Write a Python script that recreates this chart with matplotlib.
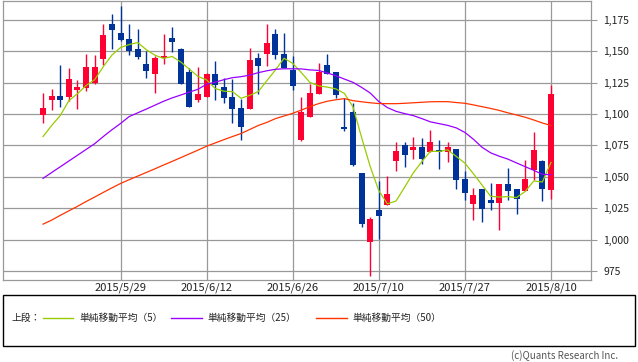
import matplotlib
matplotlib.use("Agg")
import matplotlib.pyplot as plt
from matplotlib.patches import Rectangle
from matplotlib.lines import Line2D
from matplotlib.ticker import FuncFormatter

plt.rcParams['font.family'] = ['Noto Sans CJK JP', 'DejaVu Sans']

# daily candles, 2015/5/18 .. 2015/8/10 (trading days)
opens = [1099.6, 1111.5, 1114.7, 1113.9, 1119.4, 1121.0, 1125.0, 1144.0, 1171.8, 1164.7,
         1159.9, 1152.0, 1140.1, 1132.1, 1144.8, 1160.7, 1152.0, 1133.7, 1111.5, 1113.9,
         1132.1, 1121.8, 1113.9, 1105.2, 1104.4, 1144.8, 1148.0, 1163.9, 1148.0, 1135.3,
         1079.0, 1098.0, 1116.3, 1139.3, 1133.7, 1090.1, 1102.0, 1052.8, 998.0, 1023.4,
         1027.4, 1062.3, 1075.0, 1071.0, 1073.4, 1069.4, 1071.0, 1069.4, 1071.8, 1048.0,
         1028.2, 1040.1, 1031.3, 1028.9, 1044.0, 1040.1, 1038.5, 1055.2, 1062.3, 1039.3]
highs = [1117.1, 1120.2, 1139.3, 1136.9, 1127.4, 1148.0, 1147.2, 1171.8, 1179.8, 1186.1,
         1171.8, 1167.9, 1150.4, 1146.4, 1163.9, 1169.4, 1152.8, 1136.9, 1137.7, 1132.9,
         1142.5, 1129.0, 1128.2, 1112.3, 1152.8, 1148.8, 1171.8, 1167.9, 1164.7, 1146.4,
         1113.9, 1124.2, 1140.9, 1148.0, 1133.7, 1113.1, 1109.1, 1052.8, 1017.8, 1046.4,
         1050.4, 1077.4, 1077.4, 1082.1, 1081.3, 1087.7, 1079.0, 1077.4, 1071.8, 1054.4,
         1040.9, 1040.1, 1044.8, 1044.0, 1056.7, 1040.1, 1063.1, 1086.1, 1063.1, 1123.4]
lows = [1093.2, 1103.6, 1106.0, 1110.7, 1104.4, 1118.6, 1124.2, 1139.3, 1152.0, 1158.3,
        1147.2, 1144.0, 1129.0, 1117.1, 1140.1, 1149.6, 1124.2, 1106.0, 1109.9, 1113.9,
        1111.5, 1109.1, 1092.5, 1079.0, 1104.4, 1116.3, 1138.5, 1144.0, 1136.9, 1119.4,
        1078.2, 1098.0, 1116.3, 1132.1, 1113.1, 1086.9, 1058.3, 1009.9, 971.0, 1000.4,
        1027.4, 1054.4, 1057.5, 1063.9, 1059.9, 1069.4, 1055.9, 1061.5, 1040.1, 1031.3,
        1015.5, 1013.9, 1023.4, 1007.5, 1031.3, 1020.2, 1038.5, 1047.2, 1030.5, 1032.1]
closes = [1105.2, 1114.7, 1111.5, 1128.2, 1121.8, 1137.7, 1137.7, 1163.1, 1167.1, 1159.1,
          1150.4, 1145.6, 1134.5, 1144.8, 1146.4, 1157.5, 1124.2, 1106.0, 1116.3, 1132.1,
          1123.4, 1113.1, 1104.4, 1090.1, 1143.3, 1138.5, 1156.7, 1147.2, 1136.9, 1122.6,
          1102.0, 1117.1, 1133.7, 1132.1, 1115.5, 1088.5, 1059.1, 1012.3, 1016.3, 1018.6,
          1036.1, 1070.2, 1067.1, 1073.4, 1063.9, 1077.4, 1069.4, 1073.4, 1047.2, 1036.9,
          1035.3, 1024.2, 1028.9, 1044.0, 1038.5, 1032.1, 1048.0, 1071.0, 1040.1, 1116.3]

ma5 = [1082.1, 1090.9, 1098.8, 1110.7, 1116.2, 1122.8, 1127.4, 1137.8, 1147.0, 1153.0,
       1155.4, 1157.0, 1151.3, 1146.9, 1144.4, 1145.9, 1141.5, 1135.8, 1130.0, 1127.2,
       1120.4, 1118.2, 1117.9, 1112.6, 1114.9, 1117.9, 1126.6, 1135.2, 1144.5, 1140.4,
       1133.1, 1125.2, 1122.5, 1121.5, 1120.1, 1116.5, 1105.8, 1081.5, 1058.3, 1039.0,
       1028.5, 1030.7, 1041.7, 1053.1, 1062.1, 1070.4, 1070.2, 1071.5, 1066.3, 1060.9,
       1052.4, 1043.4, 1034.5, 1033.9, 1034.2, 1033.5, 1038.3, 1046.7, 1045.9, 1061.5]
ma25 = [1048.8, 1053.4, 1058.0, 1062.6, 1067.2, 1071.8, 1076.4, 1082.1, 1087.5, 1092.5,
        1098.0, 1101.0, 1104.0, 1107.1, 1110.2, 1112.9, 1115.2, 1117.5, 1119.8, 1123.8,
        1125.4, 1127.4, 1129.0, 1129.8, 1131.0, 1133.0, 1134.5, 1135.7, 1136.1, 1136.1,
        1136.0, 1135.2, 1134.8, 1132.8, 1130.6, 1127.9, 1125.3, 1121.3, 1116.8, 1110.0,
        1105.2, 1102.2, 1100.4, 1098.8, 1096.4, 1093.8, 1092.4, 1091.0, 1089.0, 1085.4,
        1079.9, 1073.5, 1069.1, 1066.4, 1064.1, 1061.1, 1058.1, 1055.2, 1052.0, 1051.7]
ma50 = [1012.3, 1015.5, 1019.3, 1022.9, 1026.5, 1030.3, 1033.9, 1037.6, 1041.2, 1044.7,
        1047.7, 1050.6, 1053.5, 1056.4, 1059.4, 1062.3, 1065.3, 1068.3, 1071.3, 1074.4,
        1077.0, 1079.6, 1082.1, 1084.5, 1087.7, 1090.9, 1093.4, 1096.4, 1098.5, 1100.6,
        1103.2, 1105.9, 1108.3, 1110.2, 1111.4, 1112.3, 1110.7, 1109.8, 1109.0, 1108.4,
        1108.3, 1108.3, 1108.6, 1109.0, 1109.4, 1109.8, 1109.9, 1109.9, 1109.2, 1108.6,
        1107.3, 1105.9, 1104.5, 1102.9, 1101.0, 1099.3, 1097.5, 1095.3, 1092.9, 1090.9]

tick_pos = [9, 19, 29, 39, 49, 59]
tick_labels = ["2015/5/29", "2015/6/12", "2015/6/26", "2015/7/10", "2015/7/27", "2015/8/10"]
y_ticks = [975, 1000, 1025, 1050, 1075, 1100, 1125, 1150, 1175]

up_col = "#ff0033"
down_col = "#003399"
grid_col = "#999999"

fig = plt.figure(figsize=(6.38, 3.62), dpi=100)
ax = fig.add_axes([3 / 638, 1 - 280 / 362, 588 / 638, 279 / 362])

# grid
for y in y_ticks:
    ax.axhline(y, color=grid_col, lw=0.9, zorder=0)
for x in tick_pos:
    ax.axvline(x, color=grid_col, lw=0.9, zorder=0)

# candles
w = 0.7
for i in range(len(opens)):
    o, h, l, c = opens[i], highs[i], lows[i], closes[i]
    col = up_col if c >= o else down_col
    ax.vlines(i, l, h, color=col, lw=1.0, zorder=2)
    bottom = min(o, c)
    height = max(abs(c - o), 0.8)
    ax.add_patch(Rectangle((i - w / 2, bottom), w, height, facecolor=col,
                           edgecolor=col, lw=0, zorder=3))

idx = list(range(len(closes)))
ax.plot(idx, ma5, color="#99cc00", lw=0.9, zorder=4)
ax.plot(idx, ma25, color="#9900ff", lw=0.9, zorder=4)
ax.plot(idx, ma50, color="#ff3300", lw=0.9, zorder=4)

ax.set_xlim(-4.65, 63.65)
ax.set_ylim(967.8, 1190.1)

ax.set_xticks(tick_pos)
ax.set_xticklabels(tick_labels)
ax.set_yticks(y_ticks)
ax.yaxis.set_major_formatter(FuncFormatter(lambda v, p: f"{int(v):,}"))
ax.yaxis.tick_right()
ax.tick_params(axis="x", length=0, pad=2, labelsize=8, colors="#222222")
ax.tick_params(axis="y", length=4, width=0.8, color=grid_col, pad=5,
               labelsize=7.5, labelcolor="#222222")
for s in ax.spines.values():
    s.set_color(grid_col)
    s.set_linewidth(0.9)

# legend box
fig.patches.append(Rectangle((3 / 638, 1 - 346 / 362), 632 / 638, 51 / 362,
                             transform=fig.transFigure, fill=False,
                             edgecolor="black", lw=1.0))
ly = 1 - 318 / 362
fig.text(12 / 638, ly, "上段：", fontsize=7, va="center", color="#222222")
legend_items = [
    (43, 73, 79, "#99cc00", "単純移動平均（5）"),
    (171, 202, 207, "#9900ff", "単純移動平均（25）"),
    (316, 347, 352, "#ff3300", "単純移動平均（50）"),
]
for x0, x1, xt, col, lab in legend_items:
    fig.lines.append(Line2D([x0 / 638, x1 / 638], [ly, ly], transform=fig.transFigure,
                            color=col, lw=1.0))
    fig.text(xt / 638, ly, lab, fontsize=7, va="center", color="#222222")

fig.text(618 / 638, 1 - 356 / 362, "(c)Quants Research Inc.", fontsize=7,
         ha="right", va="center", color="#555555")

fig.savefig("out.png", dpi=100)
